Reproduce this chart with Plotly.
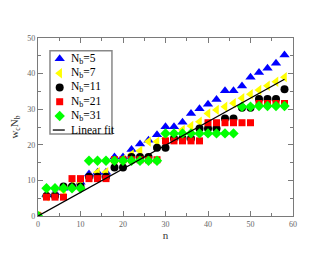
import plotly.graph_objects as go

n = list(range(0, 60, 2))

nb5 = [0, 6.0, 6.5, 7.8, 8.5, 9.5, 11.8, 12.3, 12.3, 16.6, 16.6, 18.7, 20.2, 21.3, 22.8,
       25.1, 25.1, 26.3, 28.8, 30.1, 31.4, 32.7, 35.2, 35.2, 36.5, 39.0, 40.3, 41.5, 42.9, 45.2]
nb7 = [0, 5.5, 6.2, 7.2, 8.6, 9.2, 10.8, 12.3, 12.3, 15.2, 15.8, 17.3, 18.3, 20.9, 20.9,
       21.8, 22.8, 24.2, 25.3, 26.5, 28.8, 29.8, 30.7, 31.7, 33.1, 34.2, 35.4, 36.6, 37.7, 39.0]
nb11 = [0, 5.6, 5.6, 8.3, 8.3, 8.3, 11.0, 11.0, 11.0, 13.6, 13.6, 16.6, 16.6, 16.6, 19.2,
        19.2, 21.8, 21.8, 21.8, 24.6, 24.6, 24.6, 27.4, 27.4, 30.4, 30.4, 32.9, 32.9, 32.9, 35.6]
nb21 = [0, 5.3, 5.3, 5.3, 10.5, 10.5, 10.5, 10.5, 10.5, 15.8, 15.8, 15.8, 15.8, 15.8, 15.8,
        21.1, 21.1, 21.1, 21.1, 21.1, 26.2, 26.2, 26.2, 26.2, 26.2, 26.2, 31.6, 31.6, 31.6, 31.6]
nb31 = [0, 7.8, 7.8, 7.8, 7.8, 7.8, 15.5, 15.5, 15.5, 15.5, 15.5, 15.5, 15.5, 15.5, 15.5,
        23.2, 23.2, 23.2, 23.2, 23.2, 23.2, 23.2, 23.2, 23.2, 30.7, 30.7, 30.9, 30.9, 30.9, 30.9]
fit_x = [0, 58]
fit_y = [0, 38.4]

labels = ["N<sub>b</sub>=5", "N<sub>b</sub>=7", "N<sub>b</sub>=11",
          "N<sub>b</sub>=21", "N<sub>b</sub>=31", "Linear fit"]

series = [
    (labels[0], nb5, "triangle-up", "#0000ff", 9),
    (labels[1], nb7, "triangle-left", "#ffff00", 9),
    (labels[2], nb11, "circle", "#000000", 8),
    (labels[3], nb21, "square", "#ff0000", 7),
    (labels[4], nb31, "diamond", "#00ff00", 8),
]

SERIF = "Liberation Serif"
GRAY = "#7a7a7a"

fig = go.Figure()
for name, ys, sym, col, sz in series:
    fig.add_trace(go.Scatter(x=n, y=ys, mode="markers", name=name, showlegend=False,
                             marker=dict(symbol=sym, color=col, size=sz, line=dict(width=0))))
fig.add_trace(go.Scatter(x=fit_x, y=fit_y, mode="lines", name=labels[5], showlegend=False,
                         line=dict(color="black", width=1.3)))

# ---- compact legend (drawn on an overlay axis spanning the plot area, 0..1) ----
LEG_X0, LEG_X1, LEG_Y0, LEG_Y1 = 0.047, 0.290, 0.460, 0.929
ROW_Y = [0.884, 0.802, 0.722, 0.642, 0.562, 0.483]
SYM_X = 0.085
TXT_X = 0.122
for i, (name, ys, sym, col, sz) in enumerate(series):
    fig.add_trace(go.Scatter(x=[SYM_X], y=[ROW_Y[i]], mode="markers", xaxis="x2", yaxis="y2",
                             showlegend=False, hoverinfo="skip",
                             marker=dict(symbol=sym, color=col, size=sz, line=dict(width=0))))
fig.add_shape(type="rect", xref="paper", yref="paper", x0=LEG_X0, x1=LEG_X1, y0=LEG_Y0, y1=LEG_Y1,
              line=dict(color="#888888", width=1.5), fillcolor="white", layer="below")
fig.add_shape(type="line", xref="paper", yref="paper", x0=0.058, x1=0.105,
              y0=ROW_Y[5], y1=ROW_Y[5], line=dict(color="black", width=1.3), layer="above")
for i, lab in enumerate(labels):
    fig.add_annotation(x=TXT_X, y=ROW_Y[i], xref="paper", yref="paper", text=lab,
                       showarrow=False, xanchor="left", yanchor="middle",
                       font=dict(family=SERIF, size=11.5, color="black"))

axis_common = dict(showgrid=False, zeroline=False, showline=True, linecolor=GRAY,
                   linewidth=1.3, mirror="allticks", ticks="inside", ticklen=5,
                   tickcolor=GRAY, tickwidth=1, automargin=False,
                   tickfont=dict(family=SERIF, size=8, color="#666666"),
                   minor=dict(ticks="inside", ticklen=3, tickcolor=GRAY, dtick=5))

fig.update_xaxes(range=[0, 60], dtick=10, tick0=0, **axis_common,
                 title=dict(text="n", font=dict(family=SERIF, size=11, color="#333333"),
                            standoff=0))
fig.update_yaxes(range=[0, 50], dtick=10, tick0=0, **axis_common,
                 title=dict(text="w<sub>c</sub>N<sub>b</sub>",
                            font=dict(family=SERIF, size=11, color="#333333"),
                            standoff=6))

fig.update_layout(
    width=322, height=247,
    margin=dict(l=30, r=37, t=30, b=39, autoexpand=False),
    paper_bgcolor="white", plot_bgcolor="white",
    showlegend=False,
    xaxis2=dict(overlaying="x", range=[0, 1], visible=False, fixedrange=True),
    yaxis2=dict(overlaying="y", range=[0, 1], visible=False, fixedrange=True),
)

fig.write_html("out.html")
